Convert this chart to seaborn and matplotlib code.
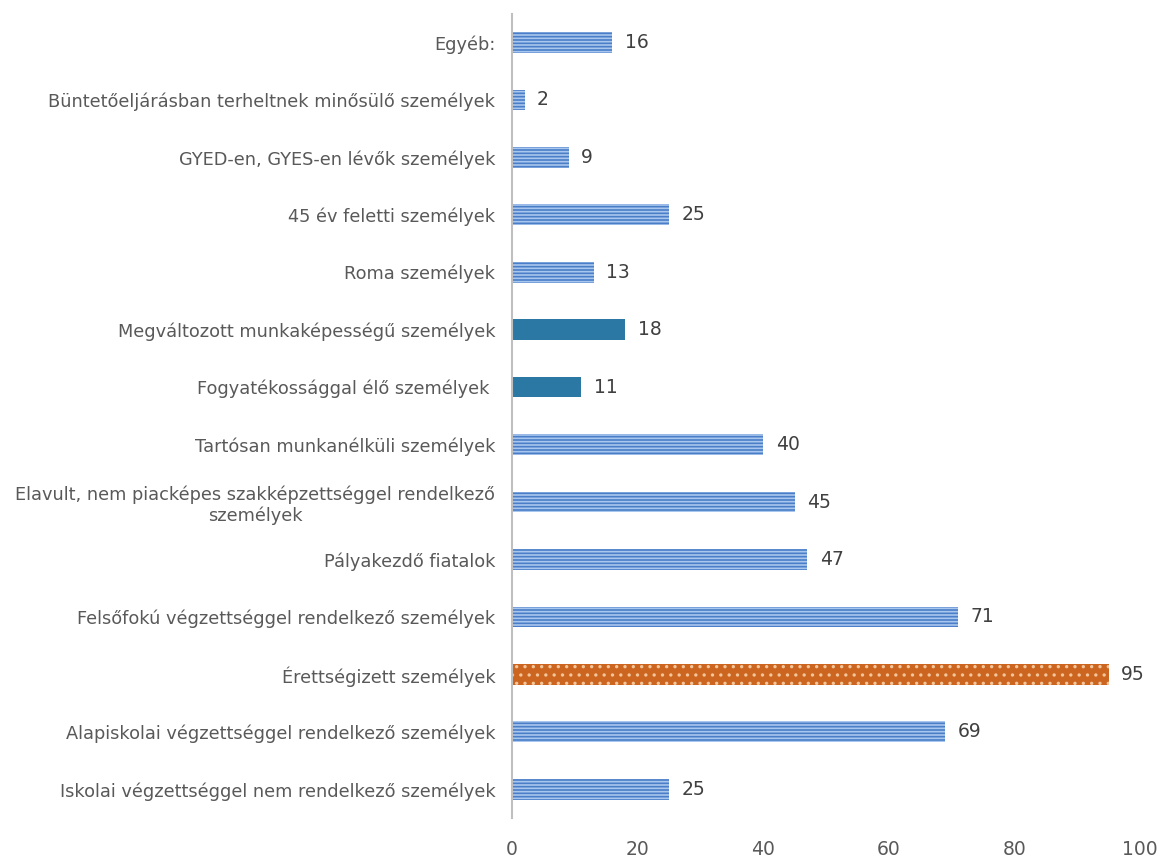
import numpy as np
import pandas as pd
import seaborn as sns
import matplotlib.pyplot as plt

# Adatok (fentről lefelé)
kategoriak = [
    "Egyéb:",
    "Büntetőeljárásban terheltnek minősülő személyek",
    "GYED-en, GYES-en lévők személyek",
    "45 év feletti személyek",
    "Roma személyek",
    "Megváltozott munkaképességű személyek",
    "Fogyatékossággal élő személyek ",
    "Tartósan munkanélküli személyek",
    "Elavult, nem piacképes szakképzettséggel rendelkező\nszemélyek",
    "Pályakezdő fiatalok",
    "Felsőfokú végzettséggel rendelkező személyek",
    "Érettségizett személyek",
    "Alapiskolai végzettséggel rendelkező személyek",
    "Iskolai végzettséggel nem rendelkező személyek",
]
ertekek = [16, 2, 9, 25, 13, 18, 11, 40, 45, 47, 71, 95, 69, 25]
# stílus csoport: csíkos kék, sima türkiz, pöttyös narancs
tipus = ["csikos", "csikos", "csikos", "csikos", "csikos", "sima", "sima",
         "csikos", "csikos", "csikos", "csikos", "pottyos", "csikos", "csikos"]
x_tickek = [0, 20, 40, 60, 80, 100]

szinek = {"csikos": "#4a7fc8", "sima": "#2b78a4", "pottyos": "#cc651f"}
hatch_szin = {"csikos": "#a9c6ee", "sima": "#2b78a4", "pottyos": "#f3c59a"}
mintak = {"csikos": "-----", "sima": "", "pottyos": ".."}

df = pd.DataFrame({"kat": kategoriak, "ertek": ertekek, "tipus": tipus})

sns.set_style("white")
plt.rcParams["font.family"] = ["DejaVu Sans"]
plt.rcParams["hatch.linewidth"] = 1.2

fig = plt.figure(figsize=(11.67, 8.57), dpi=100)
ax = fig.add_axes([0.4387, 0.0455, 0.5383, 0.9385])

sns.barplot(data=df, x="ertek", y="kat", hue="kat",
            palette=[szinek[t] for t in tipus], legend=False,
            width=0.36, saturation=1, ax=ax, orient="h")

for patch, t in zip(ax.patches, tipus):
    patch.set_hatch(mintak[t])
    patch.set_edgecolor(hatch_szin[t])
    patch.set_linewidth(0)

for cont in ax.containers:
    ax.bar_label(cont, padding=9, fontsize=13.5, color="#404040")

ax.set_xlim(0, 100)
ax.set_ylim(13.5, -0.5)
ax.set_xticks(x_tickek)
ax.set_xlabel("")
ax.set_ylabel("")
ax.tick_params(axis="x", length=0, pad=16, labelsize=13.5, labelcolor="#595959")
ax.tick_params(axis="y", length=0, pad=12, labelsize=12.8, labelcolor="#595959")
for lab in ax.get_yticklabels():
    lab.set_multialignment("center")

for s in ["top", "right", "bottom"]:
    ax.spines[s].set_visible(False)
ax.spines["left"].set_color("#bfbfbf")
ax.spines["left"].set_linewidth(1.5)

fig.savefig("out.png", dpi=100)
